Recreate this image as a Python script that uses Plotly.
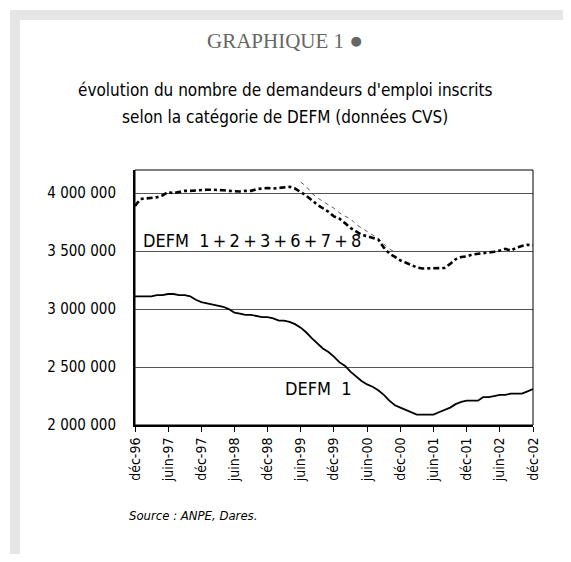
import pandas as pd
import plotly.graph_objects as go

# monthly data, déc-96 .. déc-02 (millions)
months = pd.date_range("1996-12-01", "2002-12-01", freq="MS")

defm_all = [3.89, 3.95, 3.955, 3.96, 3.965, 3.98, 4.01, 4.00, 4.01, 4.02, 4.02, 4.025,
            4.025, 4.03, 4.03, 4.03, 4.025, 4.02, 4.015, 4.015, 4.02, 4.02, 4.035, 4.04,
            4.045, 4.04, 4.045, 4.055, 4.055, 4.04, 4.01, 3.98, 3.94, 3.90, 3.87, 3.84,
            3.80, 3.78, 3.74, 3.70, 3.67, 3.64, 3.63, 3.615, 3.60, 3.53, 3.48, 3.45,
            3.42, 3.40, 3.38, 3.36, 3.35, 3.35, 3.35, 3.35, 3.355, 3.39, 3.43, 3.45,
            3.455, 3.47, 3.475, 3.48, 3.49, 3.495, 3.505, 3.52, 3.505, 3.53, 3.545, 3.555,
            3.55]

# thin dashed segment, juin-99 .. nov-00
thin_start = 30
defm_thin = [4.095, 4.06, 4.00, 3.96, 3.93, 3.90, 3.87, 3.83, 3.80, 3.78, 3.73, 3.70,
             3.67, 3.64, 3.61, 3.56, 3.52, 3.49]

defm_1 = [3.11, 3.11, 3.11, 3.11, 3.12, 3.12, 3.13, 3.13, 3.12, 3.12, 3.11, 3.08,
          3.06, 3.05, 3.04, 3.03, 3.02, 3.00, 2.97, 2.96, 2.95, 2.95, 2.94, 2.93,
          2.93, 2.92, 2.90, 2.90, 2.89, 2.87, 2.84, 2.80, 2.75, 2.70, 2.66, 2.63,
          2.59, 2.54, 2.51, 2.46, 2.42, 2.38, 2.35, 2.33, 2.30, 2.26, 2.21, 2.17,
          2.15, 2.13, 2.11, 2.09, 2.09, 2.09, 2.09, 2.11, 2.13, 2.15, 2.18, 2.20,
          2.21, 2.21, 2.21, 2.24, 2.24, 2.25, 2.26, 2.26, 2.27, 2.27, 2.27, 2.29,
          2.31]

tick_dates = pd.date_range("1996-12-01", "2002-12-01", freq="6MS")
tick_text = ["déc-96", "juin-97", "déc-97", "juin-98", "déc-98", "juin-99", "déc-99",
             "juin-00", "déc-00", "juin-01", "déc-01", "juin-02", "déc-02"]

y_ticks = [2000000, 2500000, 3000000, 3500000, 4000000]
y_text = ["2 000 000", "2 500 000", "3 000 000", "3 500 000", "4 000 000"]

NARROW = "DejaVu Sans Condensed, DejaVu Sans, sans-serif"

# page body adds an 8px margin, so everything is laid out 8px up/left
OFF = 8
W, H = 571 - 2 * OFF, 562 - 2 * OFF
L, T = 135 - OFF, 170 - OFF
R = W - (533 - OFF)
B = H - (425 - OFF)
pw, ph = W - L - R, H - T - B


def px(x):
    return (x - OFF - L) / pw


def py(y):
    return (H - B - (y - OFF)) / ph


fig = go.Figure()

fig.add_trace(go.Scatter(
    x=months[thin_start:thin_start + len(defm_thin)],
    y=[v * 1e6 for v in defm_thin],
    mode="lines", line=dict(color="#333333", width=0.8, dash="4px,4px"),
    showlegend=False))

fig.add_trace(go.Scatter(
    x=months, y=[v * 1e6 for v in defm_all],
    mode="lines", line=dict(color="black", width=2.6, dash="6px,3px,3px,3px"),
    showlegend=False))

fig.add_trace(go.Scatter(
    x=months, y=[v * 1e6 for v in defm_1],
    mode="lines", line=dict(color="black", width=1.8),
    showlegend=False))

shapes = [
    dict(type="rect", xref="paper", yref="paper", layer="below",
         x0=px(10), x1=px(590), y0=py(10), y1=py(590),
         fillcolor="#e6e6e6", line_width=0),
    dict(type="rect", xref="paper", yref="paper", layer="below",
         x0=px(20), x1=px(567), y0=py(20), y1=py(559),
         fillcolor="white", line_width=0),
    dict(type="rect", xref="paper", yref="paper",
         x0=0, x1=1, y0=0, y1=1, line=dict(color="black", width=1)),
]

ts = "\u2009"
annotations = [
    dict(text="GRAPHIQUE 1 <span style='font-size:23px'>●</span>",
         x=px(285), y=py(40), xanchor="center", yanchor="middle",
         font=dict(family="Liberation Serif, Times New Roman, serif", size=21, color="#666666")),
    dict(text="évolution du nombre de demandeurs d'emploi inscrits",
         x=px(285), y=py(90), xanchor="center", yanchor="middle",
         font=dict(family=NARROW, size=17, color="black")),
    dict(text="selon la catégorie de DEFM (données CVS)",
         x=px(285), y=py(117), xanchor="center", yanchor="middle",
         font=dict(family=NARROW, size=17, color="black")),
    dict(text="DEFM  " + ts.join(["1", "+", "2", "+", "3", "+", "6", "+", "7", "+", "8"]),
         x=px(141), y=py(240), xanchor="left", yanchor="middle",
         font=dict(family=NARROW, size=18, color="black")),
    dict(text="DEFM  1",
         x=px(283), y=py(388), xanchor="left", yanchor="middle",
         font=dict(family=NARROW, size=18, color="black")),
    dict(text="<i>Source : ANPE, Dares.</i>",
         x=px(127), y=py(515), xanchor="left", yanchor="middle",
         font=dict(family=NARROW, size=13, color="black")),
]
for a in annotations:
    a.update(xref="paper", yref="paper", showarrow=False)

fig.update_layout(
    width=W, height=H,
    margin=dict(l=L, r=R, t=T, b=B),
    paper_bgcolor="white", plot_bgcolor="rgba(0,0,0,0)",
    shapes=shapes, annotations=annotations,
    xaxis=dict(range=[months[0], months[-1]], tickvals=tick_dates, ticktext=tick_text,
               tickangle=-90, ticks="outside", ticklen=5, tickcolor="black",
               showgrid=False, showline=True, linecolor="black", linewidth=2,
               tickfont=dict(family=NARROW, size=14, color="black")),
    yaxis=dict(range=[2000000, 4200000], tickvals=y_ticks, ticktext=y_text,
               showgrid=True, gridcolor="#555555", gridwidth=1,
               showline=True, linecolor="black", linewidth=2, ticks="",
               ticklabelstandoff=14, zeroline=False,
               tickfont=dict(family=NARROW, size=15, color="black")),
)

fig.write_html("out.html")
